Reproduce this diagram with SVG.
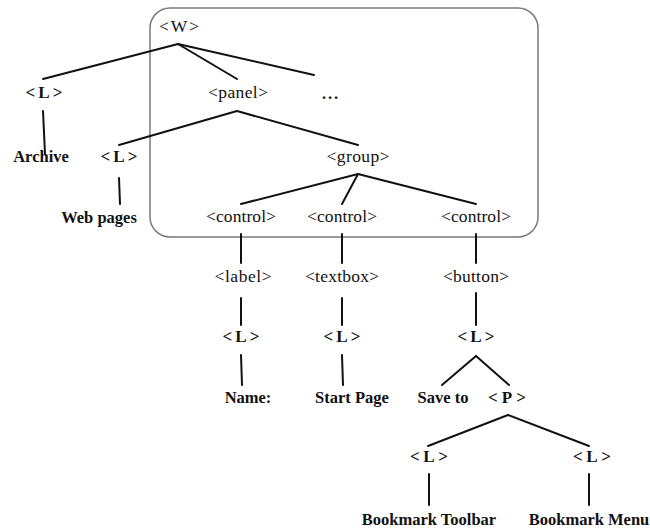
<svg xmlns="http://www.w3.org/2000/svg" width="650" height="529" viewBox="0 0 650 529">
  <style>
    text { font-family: "Liberation Serif", "Times New Roman", serif; fill: #111; text-anchor: middle; }
    .tag { font-size: 17.5px; }
    .lit { font-size: 16.5px; font-weight: bold; }
    .lbl { font-size: 17px; font-weight: bold; }
    .edges line { stroke: #111; stroke-width: 2; stroke-linecap: round; }
    .frame { fill: none; stroke: #7a7a7a; stroke-width: 1.5; }
  </style>
  <rect width="650" height="529" fill="#ffffff"/>

  <!-- window frame -->
  <rect id="window-frame" class="frame" x="150" y="8" width="388" height="229" rx="20" ry="20"/>

  <!-- connectors -->
  <g class="edges">
    <line x1="178" y1="44" x2="43" y2="79"/>
    <line x1="178" y1="44" x2="237" y2="79"/>
    <line x1="178" y1="44" x2="314" y2="75"/>
    <line x1="43" y1="111" x2="45" y2="154"/>
    <line x1="237" y1="111" x2="119" y2="145"/>
    <line x1="237" y1="111" x2="358" y2="145"/>
    <line x1="119" y1="178" x2="120" y2="204"/>
    <line x1="358" y1="174" x2="241" y2="204"/>
    <line x1="358" y1="174" x2="342" y2="204"/>
    <line x1="358" y1="174" x2="476" y2="204"/>
    <line x1="241" y1="234" x2="241" y2="263"/>
    <line x1="342" y1="234" x2="342" y2="263"/>
    <line x1="476" y1="234" x2="476" y2="263"/>
    <line x1="241" y1="298" x2="241" y2="325"/>
    <line x1="342" y1="298" x2="342" y2="325"/>
    <line x1="476" y1="293" x2="476" y2="325"/>
    <line x1="241" y1="355" x2="242" y2="385"/>
    <line x1="342" y1="355" x2="343" y2="385"/>
    <line x1="476" y1="356" x2="442" y2="385"/>
    <line x1="476" y1="356" x2="509" y2="385"/>
    <line x1="508" y1="415" x2="428" y2="446"/>
    <line x1="508" y1="415" x2="589" y2="446"/>
    <line x1="429" y1="474" x2="429" y2="505"/>
    <line x1="589" y1="474" x2="589" y2="505"/>
  </g>

  <!-- nodes -->
  <g id="n-window"><text class="tag" x="179" y="32" textLength="40">&lt;W&gt;</text></g>
  <g id="n-label-archive"><text class="lbl" x="44" y="98" textLength="37">&lt;L&gt;</text></g>
  <g id="n-panel"><text class="tag" x="238" y="98" textLength="60">&lt;panel&gt;</text></g>
  <g id="n-more"><text class="lit" x="330" y="99" textLength="16">...</text></g>
  <g id="n-archive"><text class="lit" x="41" y="162">Archive</text></g>
  <g id="n-label-web"><text class="lbl" x="119" y="162" textLength="37">&lt;L&gt;</text></g>
  <g id="n-group"><text class="tag" x="358" y="162" textLength="63">&lt;group&gt;</text></g>
  <g id="n-webpages"><text class="lit" x="99" y="223">Web pages</text></g>
  <g id="n-control-1"><text class="tag" x="241" y="222" textLength="70">&lt;control&gt;</text></g>
  <g id="n-control-2"><text class="tag" x="342" y="222" textLength="70">&lt;control&gt;</text></g>
  <g id="n-control-3"><text class="tag" x="476" y="222" textLength="70">&lt;control&gt;</text></g>
  <g id="n-label"><text class="tag" x="243" y="282" textLength="57">&lt;label&gt;</text></g>
  <g id="n-textbox"><text class="tag" x="342" y="282" textLength="74">&lt;textbox&gt;</text></g>
  <g id="n-button"><text class="tag" x="476" y="282" textLength="66">&lt;button&gt;</text></g>
  <g id="n-label-name"><text class="lbl" x="241" y="342" textLength="37">&lt;L&gt;</text></g>
  <g id="n-label-start"><text class="lbl" x="342" y="342" textLength="37">&lt;L&gt;</text></g>
  <g id="n-label-save"><text class="lbl" x="476" y="342" textLength="37">&lt;L&gt;</text></g>
  <g id="n-name"><text class="lit" x="248" y="403">Name:</text></g>
  <g id="n-startpage"><text class="lit" x="352" y="403">Start Page</text></g>
  <g id="n-saveto"><text class="lit" x="443" y="403">Save to</text></g>
  <g id="n-popup"><text class="lbl" x="507" y="403" textLength="38">&lt;P&gt;</text></g>
  <g id="n-label-toolbar"><text class="lbl" x="429" y="462" textLength="38">&lt;L&gt;</text></g>
  <g id="n-label-menu"><text class="lbl" x="592" y="462" textLength="38">&lt;L&gt;</text></g>
  <g id="n-toolbar"><text class="lit" x="429" y="525">Bookmark Toolbar</text></g>
  <g id="n-menu"><text class="lit" x="589" y="525">Bookmark Menu</text></g>
</svg>
